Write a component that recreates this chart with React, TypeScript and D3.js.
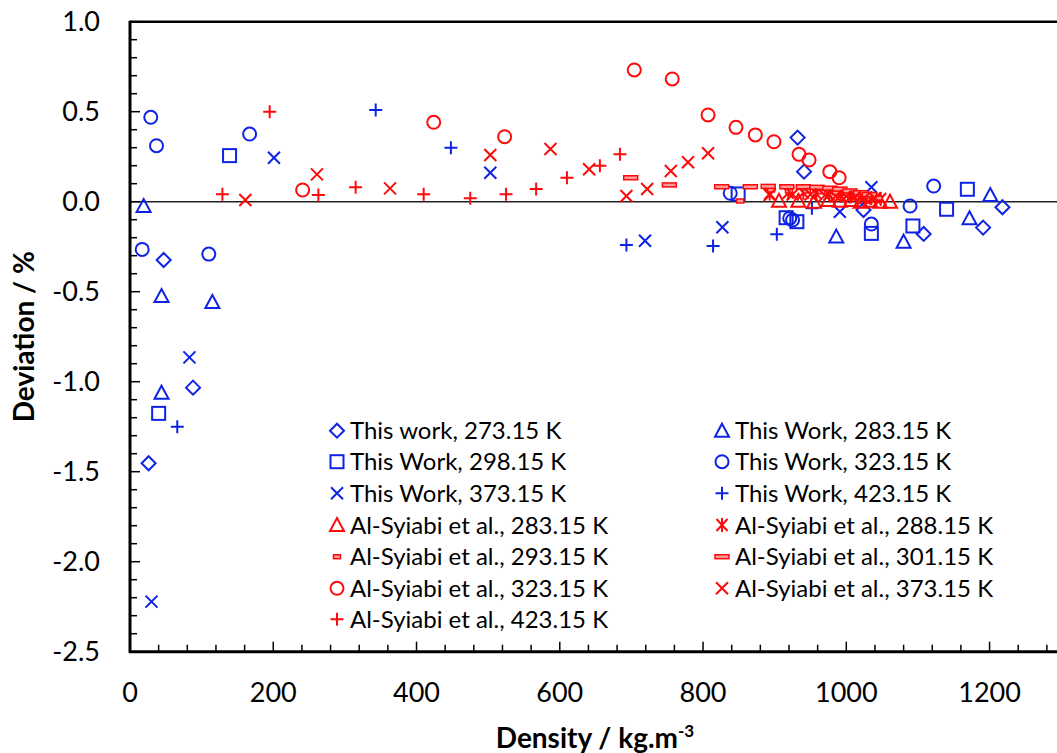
import React from 'react';
import * as d3 from 'd3';

// ---------- data ----------
const xTickValues = [0, 200, 400, 600, 800, 1000, 1200];
const yTickValues = [-2.5, -2.0, -1.5, -1.0, -0.5, 0.0, 0.5, 1.0];

// This work
const tw273Density = [26, 47, 88, 932, 941, 1024, 1108, 1191, 1218];
const tw273Dev = [-1.453, -0.324, -1.033, 0.356, 0.167, -0.046, -0.179, -0.144, -0.031];

const tw283Density = [19, 44, 115, 44, 986, 1080, 1172, 1201];
const tw283Dev = [-0.024, -0.524, -0.557, -1.061, -0.194, -0.222, -0.092, 0.037];

const tw298Density = [40, 139, 849, 916, 931, 1035, 1093, 1140, 1169];
const tw298Dev = [-1.176, 0.256, 0.043, -0.089, -0.111, -0.176, -0.135, -0.042, 0.069];

const tw323Density = [17, 29, 37, 110, 167, 838, 921, 925, 1035, 1089, 1122];
const tw323Dev = [-0.265, 0.469, 0.311, -0.291, 0.376, 0.047, -0.092, -0.102, -0.124, -0.024, 0.087];

const tw373Density = [30, 83, 201, 503, 719, 827, 991, 1035];
const tw373Dev = [-2.222, -0.865, 0.244, 0.161, -0.217, -0.142, -0.056, 0.08];

const tw423Density = [66, 343, 448, 693, 814, 903, 952];
const tw423Dev = [-1.25, 0.509, 0.3, -0.241, -0.246, -0.181, -0.037];

// Al-Syiabi et al.
const as283Density = [906, 933, 955, 975, 991, 1007, 1020, 1033, 1047, 1061];
const as283Dev = [0.005, 0.005, 0.0, 0.01, 0.005, 0.01, 0.0, 0.005, 0.0, 0.0];

const as288Density = [893, 919, 940, 958, 976, 992, 1007, 1021, 1035, 1048];
const as288Dev = [0.045, 0.05, 0.05, 0.045, 0.04, 0.035, 0.03, 0.025, 0.02, 0.015];

const as293Density = [852, 895, 920, 945, 965, 985, 1000, 1015, 1030, 1045];
const as293Dev = [0.004, 0.065, 0.06, 0.06, 0.055, 0.05, 0.045, 0.04, 0.03, 0.02];

const as301Density = [699, 753, 826, 866, 891, 917, 940, 959, 977, 991, 1005, 1020, 1032];
const as301Dev = [0.133, 0.093, 0.083, 0.083, 0.085, 0.083, 0.083, 0.08, 0.075, 0.07, 0.06, 0.05, 0.04];

const as323Density = [241, 424, 523, 704, 757, 807, 846, 873, 899, 934, 948, 977, 990];
const as323Dev = [0.065, 0.441, 0.361, 0.732, 0.682, 0.482, 0.413, 0.371, 0.333, 0.263, 0.232, 0.167, 0.133];

const as373Density = [161, 261, 363, 503, 587, 641, 693, 722, 755, 779, 807, 893, 925, 950, 970, 985, 1000, 1012, 1025, 1040];
const as373Dev = [0.009, 0.152, 0.074, 0.259, 0.293, 0.18, 0.032, 0.071, 0.171, 0.219, 0.269, 0.037, 0.04, 0.04, 0.035, 0.03, 0.03, 0.025, 0.02, 0.02];

const as423Density = [129, 195, 263, 315, 410, 475, 525, 567, 610, 656, 684];
const as423Dev = [0.041, 0.5, 0.037, 0.08, 0.041, 0.019, 0.041, 0.071, 0.133, 0.2, 0.263];

// ---------- series definitions ----------
type Shape = 'diamond' | 'square' | 'x' | 'triangle' | 'circle' | 'plus' | 'star' | 'shortDash' | 'longDash';
const BLUE = '#0f23e6';
const RED = '#ff0a0a';

interface Series { label: string; xs: number[]; ys: number[]; shape: Shape; color: string; }

const leftLegend: Series[] = [
  { label: 'This work, 273.15 K', xs: tw273Density, ys: tw273Dev, shape: 'diamond', color: BLUE },
  { label: 'This Work, 298.15 K', xs: tw298Density, ys: tw298Dev, shape: 'square', color: BLUE },
  { label: 'This Work, 373.15 K', xs: tw373Density, ys: tw373Dev, shape: 'x', color: BLUE },
  { label: 'Al-Syiabi et al., 283.15 K', xs: as283Density, ys: as283Dev, shape: 'triangle', color: RED },
  { label: 'Al-Syiabi et al., 293.15 K', xs: as293Density, ys: as293Dev, shape: 'shortDash', color: RED },
  { label: 'Al-Syiabi et al., 323.15 K', xs: as323Density, ys: as323Dev, shape: 'circle', color: RED },
  { label: 'Al-Syiabi et al., 423.15 K', xs: as423Density, ys: as423Dev, shape: 'plus', color: RED },
];
const rightLegend: Series[] = [
  { label: 'This Work, 283.15 K', xs: tw283Density, ys: tw283Dev, shape: 'triangle', color: BLUE },
  { label: 'This Work, 323.15 K', xs: tw323Density, ys: tw323Dev, shape: 'circle', color: BLUE },
  { label: 'This Work, 423.15 K', xs: tw423Density, ys: tw423Dev, shape: 'plus', color: BLUE },
  { label: 'Al-Syiabi et al., 288.15 K', xs: as288Density, ys: as288Dev, shape: 'star', color: RED },
  { label: 'Al-Syiabi et al., 301.15 K', xs: as301Density, ys: as301Dev, shape: 'longDash', color: RED },
  { label: 'Al-Syiabi et al., 373.15 K', xs: as373Density, ys: as373Dev, shape: 'x', color: RED },
];

// drawing order (later on top)
const drawOrder: Series[] = [
  leftLegend[0], rightLegend[0], leftLegend[1], rightLegend[1], leftLegend[2], rightLegend[2],
  leftLegend[3], rightLegend[3], leftLegend[4], rightLegend[4], leftLegend[5], rightLegend[5], leftLegend[6],
];

// ---------- layout ----------
const W = 1057, H = 753;
const X0 = 130, PXPERUNIT = 0.7163;
const x = d3.scaleLinear().domain([0, 1300]).range([X0, X0 + 1300 * PXPERUNIT]);
const y = d3.scaleLinear().domain([-2.5, 1]).range([651.7, 21.7]);
const FONT = 'Lato, "Open Sans", sans-serif';

function Marker({ shape, color, cx, cy }: { shape: Shape; color: string; cx: number; cy: number }) {
  const sw = 2;
  const t = `translate(${cx},${cy})`;
  switch (shape) {
    case 'diamond':
      return <path transform={t} d="M0,-7L7,0L0,7L-7,0Z" fill="none" stroke={color} strokeWidth={sw} />;
    case 'square':
      return <rect transform={t} x={-6.5} y={-6.5} width={13} height={13} fill="none" stroke={color} strokeWidth={sw} />;
    case 'circle':
      return <circle transform={t} r={6.5} fill="none" stroke={color} strokeWidth={sw} />;
    case 'triangle':
      return <path transform={t} d="M0,-7L7,6L-7,6Z" fill="none" stroke={color} strokeWidth={sw} strokeLinejoin="miter" />;
    case 'x':
      return <path transform={t} d="M-6,-6L6,6M-6,6L6,-6" fill="none" stroke={color} strokeWidth={sw} />;
    case 'plus':
      return <path transform={t} d="M-6.5,0L6.5,0M0,-6.5L0,6.5" fill="none" stroke={color} strokeWidth={sw} />;
    case 'star':
      return <path transform={t} d="M-5.5,-6L5.5,6M-5.5,6L5.5,-6M0,-7L0,7" fill="none" stroke={color} strokeWidth={sw} />;
    case 'shortDash':
      return <rect transform={t} x={-3.5} y={-2} width={7} height={4} fill="#ff9a9a" stroke={color} strokeWidth={1.5} />;
    case 'longDash':
      return <rect transform={t} x={-7} y={-2} width={14} height={4} fill="#ff9a9a" stroke={color} strokeWidth={1.5} />;
  }
  return null;
}

export default function App() {
  const xMinor = d3.range(0, 1301, 40);
  const yMinor = d3.range(-25, 11, 1).map((v) => v / 10);
  const right = x(1300);
  const legendRowsY = [430.7, 461.7, 493.3, 525, 556.7, 588.3, 619.3];

  return (
    <div style={{ position: 'absolute', left: 0, top: 0 }}>
      <svg width={W} height={H} style={{ display: 'block', background: '#fff' }}>
        <rect x={0} y={0} width={W} height={H} fill="#fff" />
        {/* zero line */}
        <line x1={X0} x2={right} y1={y(0)} y2={y(0)} stroke="#222" strokeWidth={1.5} />

        {/* x ticks (inward) */}
        {xMinor.map((v) => {
          const major = v % 200 === 0;
          return <line key={'xt' + v} x1={x(v)} x2={x(v)} y1={y(-2.5)} y2={y(-2.5) - (major ? 10 : 7)} stroke="#000" strokeWidth={1.5} />;
        })}
        {/* y ticks (inward) */}
        {yMinor.map((v) => {
          const major = Math.abs(Math.round(v * 10) % 5) === 0;
          return <line key={'yt' + v} x1={X0} x2={X0 + (major ? 10 : 7)} y1={y(v)} y2={y(v)} stroke="#000" strokeWidth={1.5} />;
        })}

        {/* frame */}
        <line x1={X0} x2={right + 5} y1={y(1)} y2={y(1)} stroke="#000" strokeWidth={2.5} />
        <line x1={X0 - 1} x2={right + 5} y1={y(-2.5)} y2={y(-2.5)} stroke="#000" strokeWidth={3} />
        <line x1={X0} x2={X0} y1={y(1) - 1} y2={y(-2.5) + 1} stroke="#000" strokeWidth={3} />
        <line x1={right} x2={right} y1={y(1)} y2={y(-2.5)} stroke="#000" strokeWidth={2.5} />

        {/* tick labels */}
        {xTickValues.map((v) => (
          <text key={'xl' + v} x={x(v)} y={702} textAnchor="middle" fontFamily={FONT} fontSize={27} fill="#000">{v}</text>
        ))}
        {yTickValues.map((v) => (
          <text key={'yl' + v} x={100} y={y(v) + 9.5} textAnchor="end" fontFamily={FONT} fontSize={27} fill="#000">{d3.format('.1f')(v).replace('−', '-')}</text>
        ))}

        {/* axis titles */}
        <text x={595} y={748} textAnchor="middle" fontFamily={FONT} fontSize={28} fontWeight="bold" fill="#000">
          Density / kg.m<tspan dy={-11} fontSize={17}>-3</tspan>
        </text>
        <text transform={`translate(34,${(y(1) + y(-2.5)) / 2}) rotate(-90)`} textAnchor="middle" fontFamily={FONT} fontSize={28} fontWeight="bold" fill="#000">
          Deviation / %
        </text>

        {/* data */}
        {drawOrder.map((s, si) => (
          <g key={'s' + si}>
            {s.xs.map((d, i) => (
              <Marker key={i} shape={s.shape} color={s.color} cx={x(d)} cy={y(s.ys[i])} />
            ))}
          </g>
        ))}

        {/* legend */}
        {leftLegend.map((s, i) => (
          <g key={'ll' + i}>
            <Marker shape={s.shape} color={s.color} cx={337} cy={legendRowsY[i]} />
            <text x={350} y={legendRowsY[i] + 8.5} fontFamily={FONT} fontSize={24} fill="#000">{s.label}</text>
          </g>
        ))}
        {rightLegend.map((s, i) => (
          <g key={'rl' + i}>
            <Marker shape={s.shape} color={s.color} cx={722} cy={legendRowsY[i]} />
            <text x={735} y={legendRowsY[i] + 8.5} fontFamily={FONT} fontSize={24} fill="#000">{s.label}</text>
          </g>
        ))}
      </svg>
    </div>
  );
}
